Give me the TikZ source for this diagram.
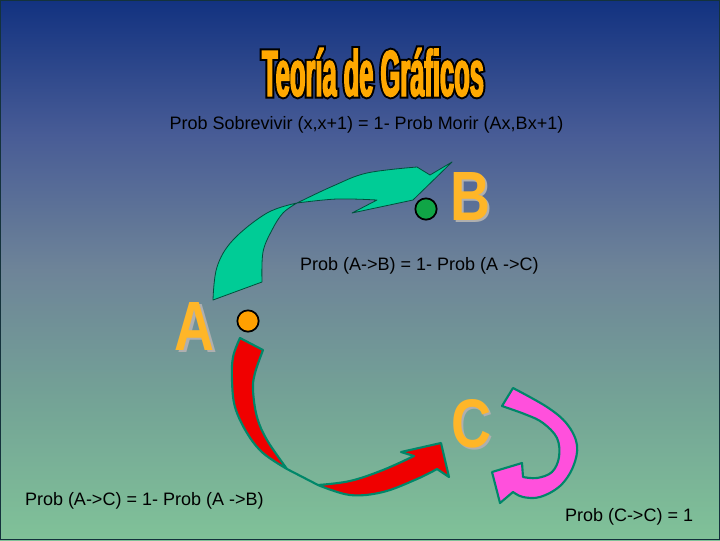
\documentclass[tikz,border=0pt]{standalone}
\usepackage{fontspec}
\setmainfont{Liberation Sans}
\newfontfamily\titlefont[FakeStretch=0.39, FakeBold=2]{Liberation Sans}
\newfontfamily\titleback[FakeStretch=0.39, FakeBold=8]{Liberation Sans}
\usepackage{graphicx}
\definecolor{bgtop}{RGB}{18,50,128}
\definecolor{bgq1}{RGB}{72,92,150}
\definecolor{bgmid}{RGB}{110,132,152}
\definecolor{bgq3}{RGB}{116,164,150}
\definecolor{bgbot}{RGB}{128,194,152}
\pgfdeclareverticalshading{bgshade}{100bp}{color(0bp)=(bgbot); color(25bp)=(bgbot); color(37.5bp)=(bgq3); color(50bp)=(bgmid); color(62.5bp)=(bgq1); color(75bp)=(bgtop); color(100bp)=(bgtop)}
\definecolor{titleor}{RGB}{255,168,0}
\definecolor{greenar}{RGB}{0,204,150}
\definecolor{greenedge}{RGB}{0,80,60}
\definecolor{redar}{RGB}{240,0,0}
\definecolor{pinkar}{RGB}{255,80,220}
\definecolor{arrowedge}{RGB}{0,135,105}
\definecolor{letteror}{RGB}{255,182,40}
\definecolor{lettersh}{RGB}{175,175,175}
\definecolor{dotgreen}{RGB}{16,165,70}
\definecolor{dotorange}{RGB}{255,160,0}
\definecolor{frame}{RGB}{20,50,60}
\newcommand{\bigletter}[1]{\resizebox{30pt}{36pt}{\bfseries #1}}
\begin{document}
\begin{tikzpicture}[x=0.75pt,y=-0.75pt,
  plain/.style={inner sep=0pt, outer sep=0pt},
  label/.style={plain, anchor=base west, font=\fontsize{13.5}{16}\selectfont, text=black},
  titlesty/.style={plain, anchor=base, font=\bfseries\fontsize{49}{52}\selectfont},
  letter/.style={plain, text=letteror},
  lettershadow/.style={plain, text=lettersh},
  dot/.style={circle, draw=black, line width=1.3pt, minimum size=16pt, inner sep=0pt},
  greenarrow/.style={fill=greenar, draw=greenedge, line width=0.6pt, line join=round},
  ribbon/.style={draw=arrowedge, line width=1.6pt, line join=round}]
\useasboundingbox (0,0) rectangle (720,540);
\shade[shading=bgshade] (0,0) rectangle (720,540);
\draw[frame, line width=1pt] (0.7,0.7) rectangle (719.3,539.3);

% title with outline
\node[titlesty, text=black] (titleshadow) at (373,96) {\titleback Teoría de Gráficos};
\node[titlesty, text=titleor] (title) at (373,96) {\titlefont Teoría de Gráficos};

% texts
\node[label, anchor=base] (sub) at (366.5,129) {Prob Sobrevivir (x,x+1) = 1- Prob Morir (Ax,Bx+1)};
\node[label] (pab) at (300,270) {Prob (A->B) = 1- Prob (A ->C)};
\node[label] (pac) at (25,505) {Prob (A->C) = 1- Prob (A ->B)};
\node[label] (pcc) at (565,521) {Prob (C->C) = 1};

% letters
\node[lettershadow] at (197,328) {\bigletter{A}};
\node[letter] (A) at (195,326) {\bigletter{A}};
\node[lettershadow] at (472,198) {\bigletter{B}};
\node[letter] (B) at (470,196) {\bigletter{B}};
\node[lettershadow] at (473,426) {\bigletter{C}};
\node[letter] (C) at (471,424) {\bigletter{C}};

% green arrow A -> B
\draw[greenarrow] (213,300)
  -- plot[smooth, tension=0.6] coordinates {(213,300) (217,267) (233,240) (267,213) (297,203)}
  -- plot[smooth, tension=0.6] coordinates {(297,203) (333,186) (367,173) (417,167)}
  -- (430,175) -- (452,162) -- (413,200) -- (352,213) -- (377,200)
  -- plot[smooth, tension=0.6] coordinates {(377,200) (337,199) (297,203)}
  -- plot[smooth, tension=0.6] coordinates {(297,203) (283,213) (272,230) (263,252) (262,282)}
  -- cycle;

% red arrow A -> C
\draw[ribbon, fill=redar] (240,338)
  -- plot[smooth, tension=0.6] coordinates {(240,338) (233,357) (232,380) (235,407) (247,433) (263,453) (287,469)}
  -- (318,485)
  -- plot[smooth, tension=0.6] coordinates {(318,485) (350,495) (383,492) (417,479) (437,469)}
  -- (449,477) -- (441,443) -- (401,452) -- (414,456)
  -- plot[smooth, tension=0.6] coordinates {(414,456) (383,470) (350,481) (318,485)}
  -- (287,469)
  -- plot[smooth, tension=0.6] coordinates {(287,469) (267,440) (257,417) (253,390) (255,373) (263,350)}
  -- cycle;

% pink arrow C -> C
\draw[ribbon, fill=pinkar] (513,388)
  -- plot[smooth, tension=0.6] coordinates {(513,388) (547,407) (567,424) (577,445) (573,467) (560,486) (540,497) (523,497) (513,492)}
  -- (500,503) -- (492,472) -- (522,463) -- (523,477)
  -- plot[smooth, tension=0.6] coordinates {(523,477) (537,478) (552,472) (559,457) (557,438) (543,423) (527,415) (502,406)}
  -- cycle;

% dots
\node[dot, fill=dotgreen] (dB) at (426,209) {};
\node[dot, fill=dotorange] (dA) at (248,321) {};
\end{tikzpicture}
\end{document}
